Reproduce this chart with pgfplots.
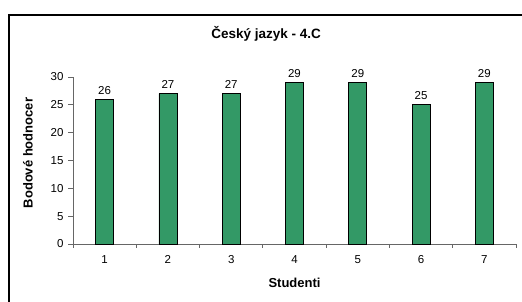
\documentclass[border=0pt]{standalone}
\usepackage{pgfplots}
\pgfplotsset{compat=1.18}
\usepackage{fontspec}
\setmainfont{Liberation Sans}
\definecolor{barg}{RGB}{51,153,102}
\begin{document}
\begin{tikzpicture}
\useasboundingbox (0pt,0pt) rectangle (522pt,302pt);
\fill[white] (0pt,0pt) rectangle (522pt,302pt);
\draw[line width=2pt] (9pt,0pt) -- (9pt,287pt) -- (522pt,287pt);
\begin{axis}[
  at={(73pt,58pt)}, anchor=south west,
  scale only axis, width=443pt, height=167pt,
  xmin=0.5, xmax=7.5, ymin=0, ymax=30,
  axis lines=left, axis line style={-, black!60, line width=0.8pt},
  tick align=outside,
  xtick={1,...,7},
  minor xtick={0.5,1.5,...,7.5},
  major x tick style={draw=none},
  minor x tick style={black!60, line width=0.8pt},
  minor tick length=4pt,
  ytick={0,5,...,30},
  y tick style={black!60, line width=0.8pt},
  major tick length=5pt,
  /pgf/number format/assume math mode=true,
  tick label style={font=\fontsize{11.5}{13}\selectfont},
  yticklabel style={xshift=-1pt},
  xticklabel style={yshift=-3pt},
  ybar, bar width=18pt,
  nodes near coords,
  nodes near coords style={font=\fontsize{11.5}{13}\selectfont, yshift=1pt},
  xlabel={Studenti},
  xlabel style={font=\bfseries\fontsize{13}{15}\selectfont, at={(axis description cs:0.5,0)}, anchor=center, yshift=-39pt},
  ylabel={Bodové hodnocer},
  ylabel style={font=\bfseries\fontsize{13}{15}\selectfont, at={(axis description cs:0,0.545)}, anchor=center, yshift=45pt},
  title={Český jazyk - 4.C},
  title style={font=\bfseries\fontsize{13.5}{15}\selectfont, at={(axis description cs:0.436,1)}, anchor=center, yshift=37pt},
  clip=false,
]
\addplot[fill=barg, draw=black, line width=0.8pt] coordinates {(1,26) (2,27) (3,27) (4,29) (5,29) (6,25) (7,29)};
\end{axis}
\end{tikzpicture}
\end{document}
